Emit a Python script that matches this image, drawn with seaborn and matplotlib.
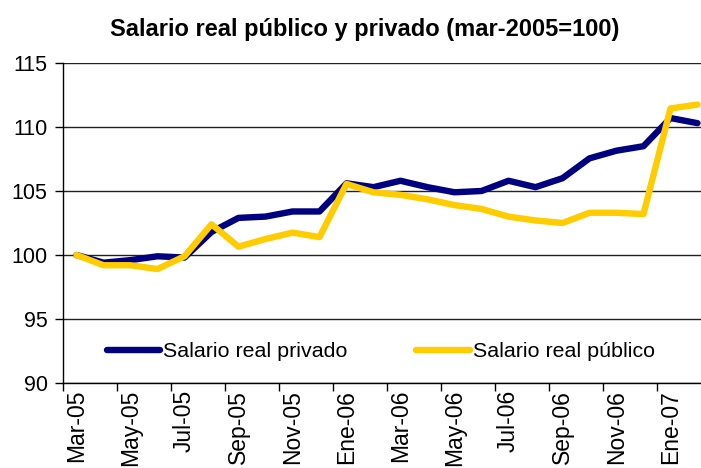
import numpy as np
import pandas as pd
import matplotlib
matplotlib.use("Agg")
import matplotlib.pyplot as plt
import seaborn as sns

# Monthly index values, Mar-2005 = 100
meses = ["Mar-05", "Abr-05", "May-05", "Jun-05", "Jul-05", "Ago-05", "Sep-05", "Oct-05",
         "Nov-05", "Dic-05", "Ene-06", "Feb-06", "Mar-06", "Abr-06", "May-06", "Jun-06",
         "Jul-06", "Ago-06", "Sep-06", "Oct-06", "Nov-06", "Dic-06", "Ene-07", "Feb-07"]
privado = [100.0, 99.4, 99.6, 99.9, 99.8, 101.8, 102.9, 103.0, 103.4, 103.4, 105.6, 105.3,
           105.8, 105.3, 104.9, 105.0, 105.8, 105.3, 106.0, 107.55, 108.15, 108.5, 110.7, 110.3]
publico = [100.0, 99.2, 99.2, 98.9, 99.9, 102.4, 100.65, 101.25, 101.75, 101.4, 105.55, 104.9,
           104.7, 104.35, 103.9, 103.6, 103.0, 102.7, 102.5, 103.3, 103.3, 103.2, 111.45, 111.75]
series = ["Salario real privado", "Salario real público"]
colores = ["#000080", "#FFCC00"]

df = pd.DataFrame({
    "x": list(range(len(meses))) * 2,
    "valor": privado + publico,
    "serie": [series[0]] * len(meses) + [series[1]] * len(meses),
})

sns.set_style("white")
plt.rcParams["font.family"] = ["Liberation Sans", "DejaVu Sans"]
plt.rcParams["text.color"] = "black"
plt.rcParams["xtick.color"] = "black"
plt.rcParams["ytick.color"] = "black"

fig = plt.figure(figsize=(7.01, 4.68), dpi=100)
ax = fig.add_axes([63 / 701, 85 / 468, 638 / 701, 320 / 468])

sns.lineplot(data=df, x="x", y="valor", hue="serie", palette=colores,
             linewidth=4.6, ax=ax, legend=True)

ax.set_ylim(90, 115)
ax.set_yticks(np.arange(90, 116, 5))
ax.set_xlim(-0.5, 23.13)
ax.yaxis.grid(True, color="#222222", linewidth=1)
ax.set_axisbelow(True)

# tick marks on category boundaries, labels on categories
ax.set_xticks(np.arange(-0.5, 22, 2))
ax.set_xticklabels([])
ax.set_xticks(np.arange(0, 23, 2), minor=True)
ax.set_xticklabels(meses[::2], minor=True, rotation=90, fontsize=16.5)
ax.tick_params(axis="x", which="major", length=6, width=1, direction="out", bottom=True)
ax.tick_params(axis="x", which="minor", length=0, pad=5)
ax.tick_params(axis="y", length=6, width=1, direction="out", left=True, labelsize=15.5, pad=5)

for s in ["top", "right"]:
    ax.spines[s].set_visible(False)
for s in ["left", "bottom"]:
    ax.spines[s].set_color("black")
    ax.spines[s].set_linewidth(1)

ax.set_xlabel("")
ax.set_ylabel("")
ax.legend(loc="center left", bbox_to_anchor=(0.055, 0.097), ncol=2, frameon=False,
          fontsize=15.4, handlelength=2.5, handletextpad=0.15, columnspacing=3.2,
          borderaxespad=0)

fig.suptitle("Salario real público y privado (mar-2005=100)", x=0.52, y=0.962,
             fontsize=17, fontweight="bold")

fig.savefig("out.png", dpi=100)
